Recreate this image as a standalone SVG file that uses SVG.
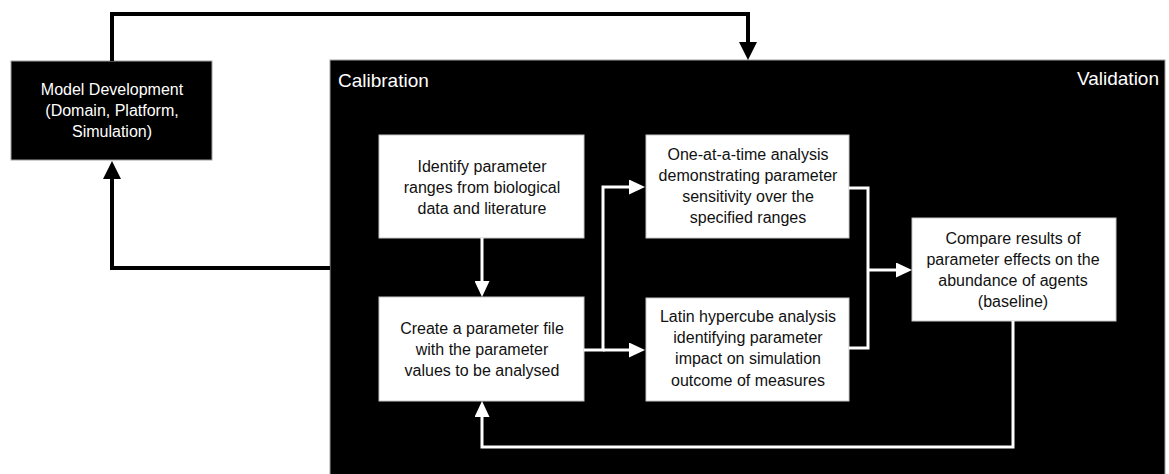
<svg xmlns="http://www.w3.org/2000/svg" width="1169" height="474" viewBox="0 0 1169 474">
<style>
.t{font-family:"Liberation Sans",Arial,sans-serif;font-size:16px;text-anchor:middle}
.wt{fill:#fff}
.bt{fill:#111}
.box{fill:#fff;stroke:#c8c8c8;stroke-width:1}
.kb{fill:#000;stroke:#a0a0a0;stroke-width:1}
.cb{fill:none;stroke:#000;stroke-width:4}
.cw{fill:none;stroke:#fff;stroke-width:3}
.hdr{font-family:"Liberation Sans",Arial,sans-serif;font-size:19px;fill:#fff}
</style>
<defs>
<marker id="ab" markerUnits="userSpaceOnUse" markerWidth="18" markerHeight="18" refX="2" refY="9" orient="auto" viewBox="0 0 18 18">
<path d="M0,0 L18,9 L0,18 z" fill="#000"/>
</marker>
<marker id="aw" markerUnits="userSpaceOnUse" markerWidth="16" markerHeight="15" refX="2" refY="7.5" orient="auto" viewBox="0 0 16 15">
<path d="M0,0 L16,7.5 L0,15 z" fill="#fff"/>
</marker>
</defs>
<rect width="1169" height="474" fill="#fff"/>

<g id="calibration-validation">
<rect class="kb" x="330" y="60" width="835" height="430"/>
<text class="hdr" x="338" y="87">Calibration</text>
<text class="hdr" x="1159" y="85" text-anchor="end">Validation</text>
</g>

<g id="model-development">
<rect class="kb" x="11" y="61" width="201" height="99"/>
<text class="t wt" x="112" y="95">Model Development</text>
<text class="t wt" x="112" y="116">(Domain, Platform,</text>
<text class="t wt" x="112" y="137">Simulation)</text>
</g>

<g id="identify">
<rect class="box" x="379" y="135" width="205" height="103"/>
<text class="t bt" x="482" y="172">Identify parameter</text>
<text class="t bt" x="482" y="193">ranges from biological</text>
<text class="t bt" x="482" y="214">data and literature</text>
</g>

<g id="create">
<rect class="box" x="379" y="297" width="205" height="104"/>
<text class="t bt" x="482" y="334">Create a parameter file</text>
<text class="t bt" x="482" y="355">with the parameter</text>
<text class="t bt" x="482" y="376">values to be analysed</text>
</g>

<g id="oat">
<rect class="box" x="646" y="135" width="203" height="103"/>
<text class="t bt" x="748" y="160">One-at-a-time analysis</text>
<text class="t bt" x="748" y="181">demonstrating parameter</text>
<text class="t bt" x="748" y="202">sensitivity over the</text>
<text class="t bt" x="748" y="223">specified ranges</text>
</g>

<g id="latin">
<rect class="box" x="646" y="298" width="203" height="103"/>
<text class="t bt" x="748" y="322">Latin hypercube analysis</text>
<text class="t bt" x="748" y="343">identifying parameter</text>
<text class="t bt" x="748" y="364">impact on simulation</text>
<text class="t bt" x="748" y="386">outcome of measures</text>
</g>

<g id="compare">
<rect class="box" x="912" y="218" width="204" height="103"/>
<text class="t bt" x="1013" y="244">Compare results of</text>
<text class="t bt" x="1013" y="265">parameter effects on the</text>
<text class="t bt" x="1013" y="286">abundance of agents</text>
<text class="t bt" x="1013" y="307">(baseline)</text>
</g>

<g id="connectors">
<path class="cb" d="M112,61 V14 H748 V44" marker-end="url(#ab)"/>
<path class="cb" d="M330,268 H112 V177" marker-end="url(#ab)"/>
<path class="cw" d="M482,238 V283" marker-end="url(#aw)"/>
<path class="cw" d="M584,350 H603 V187 H631" marker-end="url(#aw)"/>
<path class="cw" d="M603,350 H631" marker-end="url(#aw)"/>
<path class="cw" d="M849,188 H868 V348 H849"/>
<path class="cw" d="M868,270 H898" marker-end="url(#aw)"/>
<path class="cw" d="M1013,321 V447 H482 V415" marker-end="url(#aw)"/>
</g>
</svg>
